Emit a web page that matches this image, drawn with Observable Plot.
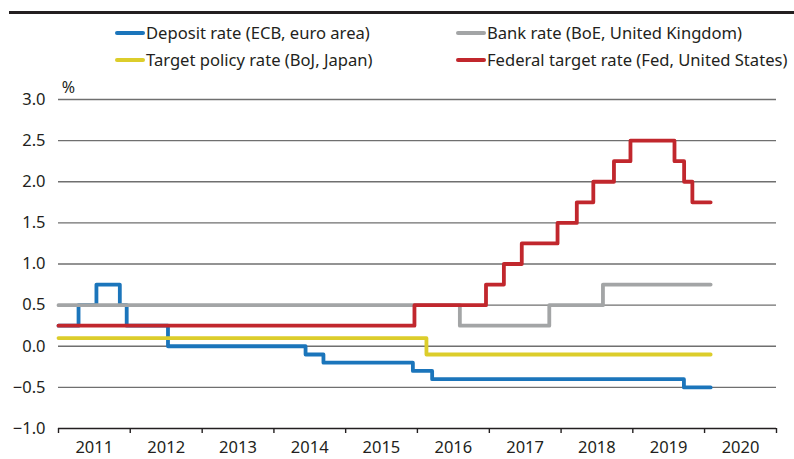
<!DOCTYPE html>
<html>
<head>
<meta charset="utf-8">
<script src="https://cdn.jsdelivr.net/npm/d3@7"></script>
<script src="https://cdn.jsdelivr.net/npm/@observablehq/plot@0.6"></script>
<style>
  body { margin: 0; background: #fff; font-family: "Noto Sans", sans-serif; color: #231f20; }
  #wrap { width: 794px; height: 459px; position: relative; overflow: hidden; }
  #head { position: relative; width: 794px; height: 75px; }
  #rule { position: absolute; left: 9px; top: 11px; width: 785px; height: 3px; background: #231f20; }
  .item { position: absolute; display: flex; align-items: center; font-size: 16.6px; white-space: nowrap; line-height: 1; }
  .sw { width: 30px; height: 4px; border-radius: 2px; margin-right: 1px; }
</style>
</head>
<body>
<div id="wrap">
  <div id="head"><div id="rule"></div></div>
  <div id="chart"></div>
</div>
<script>
// Series: dates of rate changes (last entry = end of data) and values in %
const ecbDates = ["2011-01-01","2011-04-13","2011-07-13","2011-11-09","2011-12-14","2012-07-11","2014-06-11","2014-09-10","2015-12-09","2016-03-16","2019-09-18","2020-02-01"];
const ecbRates = [0.25, 0.5, 0.75, 0.5, 0.25, 0, -0.1, -0.2, -0.3, -0.4, -0.5, -0.5];

const boeDates = ["2011-01-01","2016-08-04","2017-11-02","2018-08-02","2020-02-01"];
const boeRates = [0.5, 0.25, 0.5, 0.75, 0.75];

const bojDates = ["2011-01-01","2016-02-16","2020-02-01"];
const bojRates = [0.1, -0.1, -0.1];

const fedDates = ["2011-01-01","2015-12-17","2016-12-15","2017-03-16","2017-06-15","2017-12-14","2018-03-22","2018-06-14","2018-09-27","2018-12-20","2019-08-01","2019-09-19","2019-10-31","2020-02-01"];
const fedRates = [0.25, 0.5, 0.75, 1, 1.25, 1.5, 1.75, 2, 2.25, 2.5, 2.25, 2, 1.75, 1.75];

const seriesNames = ["Deposit rate (ECB, euro area)", "Bank rate (BoE, United Kingdom)", "Target policy rate (BoJ, Japan)", "Federal target rate (Fed, United States)"];
const seriesColors = ["#1b75bb", "#a3a5a6", "#dccd2b", "#c1272d"];

const yearLabels = ["2011","2012","2013","2014","2015","2016","2017","2018","2019","2020"];
const yTicks = [-1.0, -0.5, 0.0, 0.5, 1.0, 1.5, 2.0, 2.5, 3.0];
const unitLabel = "%";

const parse = d3.utcParse("%Y-%m-%d");
function build(dates, rates, name) {
  return dates.map((d, i) => ({date: parse(d), value: rates[i], series: name}));
}
const ecb = build(ecbDates, ecbRates, seriesNames[0]);
const boe = build(boeDates, boeRates, seriesNames[1]);
const boj = build(bojDates, bojRates, seriesNames[2]);
const fed = build(fedDates, fedRates, seriesNames[3]);

// legend (HTML, above the svg)
const head = document.getElementById("head");
const legendPos = [[115, 33], [456, 33], [115, 60], [456, 60]];
seriesNames.forEach((n, i) => {
  const it = document.createElement("div");
  it.className = "item";
  it.style.left = legendPos[i][0] + "px";
  it.style.top = (legendPos[i][1] - 10) + "px";
  it.style.height = "20px";
  it.innerHTML = `<span class="sw" style="background:${seriesColors[i]}"></span><span>${n}</span>`;
  head.appendChild(it);
});

const yearStarts = d3.range(2011, 2022).map(y => new Date(Date.UTC(y, 0, 1)));
const yearMids = yearLabels.map(y => new Date(Date.UTC(+y, 6, 2)));
const fmtY = v => (v < 0 ? "\u2212" : "") + Math.abs(v).toFixed(1);

const lineOpts = (c) => ({x: "date", y: "value", stroke: c, strokeWidth: 3.8, curve: "step-after", strokeLinejoin: "round", strokeLinecap: "round"});

const chart = Plot.plot({
  width: 794,
  height: 384,
  marginLeft: 58,
  marginRight: 18,
  marginTop: 24,
  marginBottom: 31,
  style: {fontFamily: "Noto Sans, sans-serif", fontSize: "16.5px", color: "#231f20", background: "#fff"},
  x: {type: "utc", domain: [yearStarts[0], yearStarts[10]]},
  y: {domain: [-1, 3]},
  marks: [
    Plot.ruleY(yTicks.filter(v => v > -1), {stroke: "#6f6f6f", strokeWidth: 1.4, strokeOpacity: 1}),
    Plot.ruleY([-1], {stroke: "#231f20", strokeWidth: 1.4}),
    Plot.axisX({ticks: yearStarts, tickSize: 5, tickFormat: () => "", stroke: "#231f20", strokeWidth: 1.4, label: null}),
    Plot.axisX({ticks: yearMids, tickSize: 0, tickPadding: 13, tickFormat: (d, i) => yearLabels[i], label: null, fontSize: 16.5}),
    Plot.axisY({ticks: yTicks, tickSize: 0, tickPadding: 13, tickFormat: fmtY, label: null, fontSize: 16.5}),
    Plot.text([unitLabel], {text: d => d, frameAnchor: "top-left", dx: 10, dy: -18, fontSize: 16, textAnchor: "middle"}),
    Plot.line(ecb, lineOpts(seriesColors[0])),
    Plot.line(boj, lineOpts(seriesColors[2])),
    Plot.line(boe, lineOpts(seriesColors[1])),
    Plot.line(fed, lineOpts(seriesColors[3]))
  ]
});
document.getElementById("chart").appendChild(chart);
</script>
</body>
</html>
